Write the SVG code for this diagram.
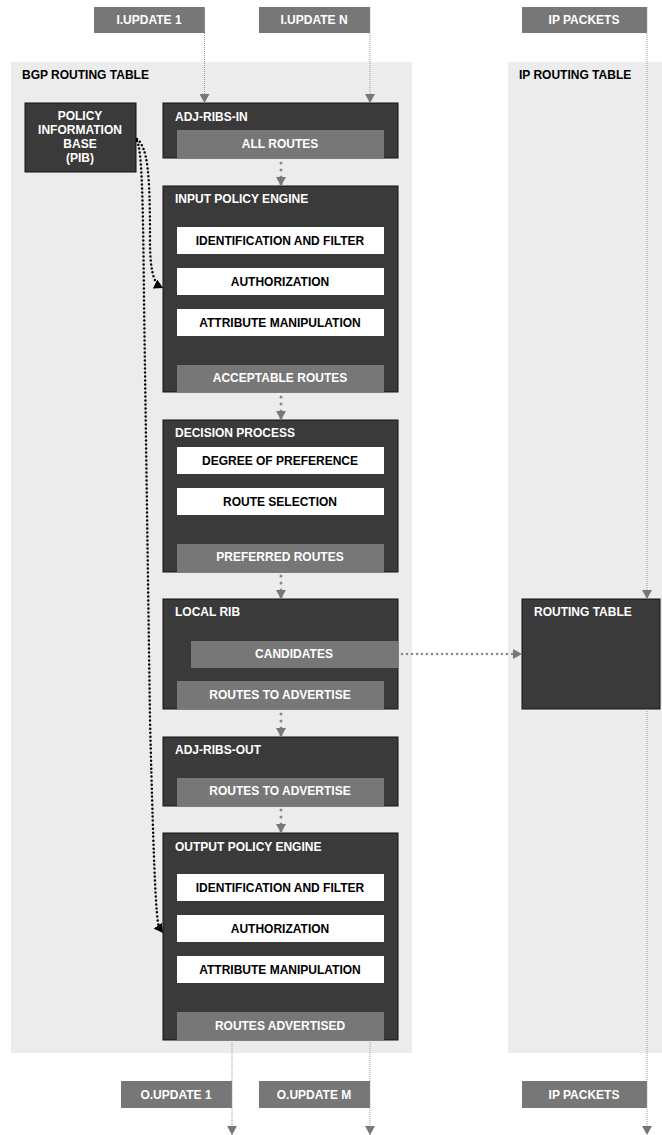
<svg xmlns="http://www.w3.org/2000/svg" width="662" height="1135" viewBox="0 0 662 1135">
<defs>
<style>
.panel{fill:#ececec}
.dark{fill:#3a3a3a;stroke:#111;stroke-width:1}
.gray{fill:#777}
.white{fill:#fff}
.tw{font-family:"Liberation Sans",Arial,sans-serif;font-weight:bold;font-size:12px;fill:#fff}
.tb{font-family:"Liberation Sans",Arial,sans-serif;font-weight:bold;font-size:12px;fill:#000}
.c{text-anchor:middle}
.thin{stroke:#999;stroke-width:1;stroke-dasharray:1 1;fill:none}
.dots{stroke:#888;stroke-width:3;stroke-dasharray:0 7;stroke-linecap:round;fill:none}
.hdots{stroke:#888;stroke-width:2.5;stroke-dasharray:0 5;stroke-linecap:round;fill:none}
.bdots{stroke:#000;stroke-width:2.5;stroke-dasharray:0 4;stroke-linecap:round;fill:none}
</style>
<marker id="ag" markerUnits="userSpaceOnUse" markerWidth="9" markerHeight="10" refX="9" refY="5" orient="auto"><path d="M0,0 L9,5 L0,10 Z" fill="#777"/></marker>
<marker id="ab" markerUnits="userSpaceOnUse" markerWidth="9" markerHeight="10" refX="9" refY="5" orient="auto"><path d="M0,0 L9,5 L0,10 Z" fill="#000"/></marker>
</defs>
<rect width="662" height="1135" fill="#fff"/>
<g id="bgp-panel"><rect class="panel" x="11" y="62" width="401" height="991"/><text class="tb" x="22" y="79">BGP ROUTING TABLE</text></g>
<g id="ip-panel"><rect class="panel" x="508" y="62" width="154" height="991"/><text class="tb" x="519" y="79">IP ROUTING TABLE</text></g>
<g id="iupdate1"><rect class="gray" x="94" y="7" width="111" height="26"/><text class="tw c" x="149" y="24">I.UPDATE 1</text></g>
<g id="iupdaten"><rect class="gray" x="259" y="7" width="111" height="26"/><text class="tw c" x="314" y="24">I.UPDATE N</text></g>
<g id="ippackets-in"><rect class="gray" x="522" y="7" width="125" height="26"/><text class="tw c" x="584" y="24">IP PACKETS</text></g>
<g id="pib"><rect class="dark" x="25" y="103" width="111" height="69"/>
<text class="tw c" x="80" y="120">POLICY</text><text class="tw c" x="80" y="134">INFORMATION</text><text class="tw c" x="80" y="148">BASE</text><text class="tw c" x="80" y="162">(PIB)</text></g>
<g id="adj-ribs-in"><rect class="dark" x="163" y="103" width="235" height="55"/><text class="tw" x="175" y="121">ADJ-RIBS-IN</text>
<rect class="gray" x="177" y="130" width="207" height="28"/><text class="tw c" x="280" y="148">ALL ROUTES</text></g>
<g id="input-policy-engine"><rect class="dark" x="163" y="186" width="235" height="206"/><text class="tw" x="175" y="203">INPUT POLICY ENGINE</text>
<rect class="white" x="177" y="227" width="207" height="27"/><text class="tb c" x="280" y="245">IDENTIFICATION AND FILTER</text>
<rect class="white" x="177" y="268" width="207" height="27"/><text class="tb c" x="280" y="286">AUTHORIZATION</text>
<rect class="white" x="177" y="309" width="207" height="27"/><text class="tb c" x="280" y="327">ATTRIBUTE MANIPULATION</text>
<rect class="gray" x="177" y="365" width="207" height="27"/><text class="tw c" x="280" y="382">ACCEPTABLE ROUTES</text></g>
<g id="decision-process"><rect class="dark" x="163" y="420" width="235" height="152"/><text class="tw" x="175" y="437">DECISION PROCESS</text>
<rect class="white" x="177" y="447" width="207" height="27"/><text class="tb c" x="280" y="465">DEGREE OF PREFERENCE</text>
<rect class="white" x="177" y="488" width="207" height="27"/><text class="tb c" x="280" y="506">ROUTE SELECTION</text>
<rect class="gray" x="177" y="544" width="207" height="28"/><text class="tw c" x="280" y="561">PREFERRED ROUTES</text></g>
<g id="local-rib"><rect class="dark" x="163" y="599" width="235" height="110"/><text class="tw" x="175" y="616">LOCAL RIB</text>
<rect class="gray" x="191" y="641" width="207" height="27"/><text class="tw c" x="294" y="658">CANDIDATES</text>
<rect class="gray" x="177" y="681" width="207" height="28"/><text class="tw c" x="280" y="699">ROUTES TO ADVERTISE</text></g>
<g id="routing-table"><rect class="dark" x="522" y="599" width="138" height="110"/><text class="tw" x="534" y="616">ROUTING TABLE</text></g>
<g id="adj-ribs-out"><rect class="dark" x="163" y="737" width="235" height="69"/><text class="tw" x="175" y="754">ADJ-RIBS-OUT</text>
<rect class="gray" x="177" y="778" width="207" height="28"/><text class="tw c" x="280" y="795">ROUTES TO ADVERTISE</text></g>
<g id="output-policy-engine"><rect class="dark" x="163" y="833" width="235" height="207"/><text class="tw" x="175" y="851">OUTPUT POLICY ENGINE</text>
<rect class="white" x="177" y="874" width="207" height="27"/><text class="tb c" x="280" y="892">IDENTIFICATION AND FILTER</text>
<rect class="white" x="177" y="915" width="207" height="27"/><text class="tb c" x="280" y="933">AUTHORIZATION</text>
<rect class="white" x="177" y="956" width="207" height="27"/><text class="tb c" x="280" y="974">ATTRIBUTE MANIPULATION</text>
<rect class="gray" x="177" y="1012" width="207" height="28"/><text class="tw c" x="280" y="1030">ROUTES ADVERTISED</text></g>
<g id="oupdate1"><rect class="gray" x="121" y="1081" width="111" height="27"/><text class="tw c" x="176" y="1099">O.UPDATE 1</text></g>
<g id="oupdatem"><rect class="gray" x="259" y="1081" width="111" height="27"/><text class="tw c" x="314" y="1099">O.UPDATE M</text></g>
<g id="ippackets-out"><rect class="gray" x="522" y="1081" width="125" height="27"/><text class="tw c" x="584" y="1099">IP PACKETS</text></g>
<g id="connectors">
<path class="thin" d="M204.5,7 V103" marker-end="url(#ag)"/>
<path class="thin" d="M370,7 V103" marker-end="url(#ag)"/>
<path class="thin" d="M647,7 V599" marker-end="url(#ag)"/>
<path class="dots" d="M281,163 V186" marker-end="url(#ag)"/>
<path class="dots" d="M281,397 V420" marker-end="url(#ag)"/>
<path class="dots" d="M281,576 V599" marker-end="url(#ag)"/>
<path class="dots" d="M281,714 V737" marker-end="url(#ag)"/>
<path class="dots" d="M281,810 V833" marker-end="url(#ag)"/>
<path class="hdots" d="M402,654 H522" marker-end="url(#ag)"/>
<path class="thin" d="M232,1040 V1135" marker-end="url(#ag)"/>
<path class="thin" d="M370,1040 V1135" marker-end="url(#ag)"/>
<path class="thin" d="M647,709 V1135" marker-end="url(#ag)"/>
<path class="bdots" d="M137,139 C148,148 150,175 150,240 C150,268 153,282 160,286"/>
<path d="M155,284 L163,288" fill="none" stroke="none" marker-end="url(#ab)"/>
<path class="bdots" d="M137,141 C142,150 143,200 144,300 L150,720 C154,880 156,915 159,928"/>
<path d="M158,926 L163,933" fill="none" stroke="none" marker-end="url(#ab)"/>
</g>
</svg>
